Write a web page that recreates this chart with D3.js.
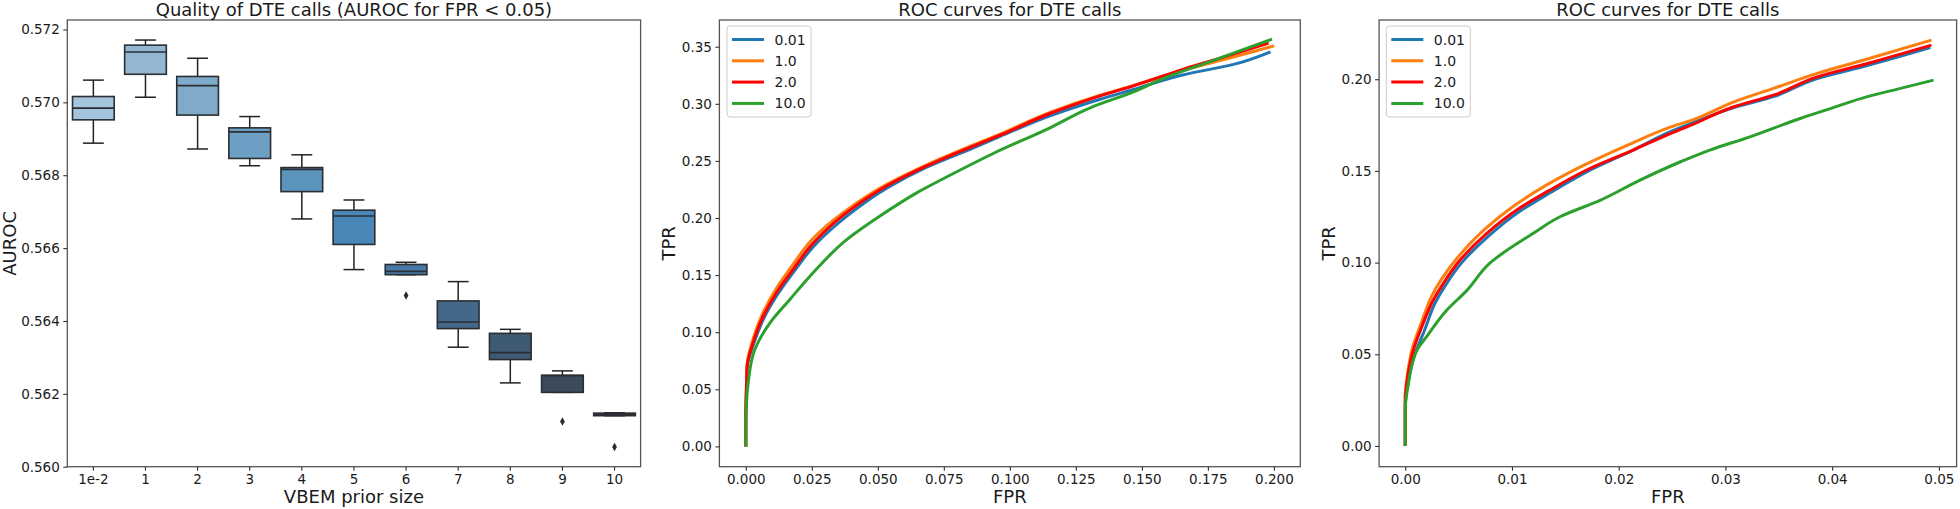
<!DOCTYPE html>
<html><head><meta charset="utf-8">
<script src="https://cdn.jsdelivr.net/npm/d3@7/dist/d3.min.js"></script>
<style>
body{margin:0;background:#fff}
text{font-family:'DejaVu Sans',sans-serif;fill:#1a1a1a}
</style></head>
<body><svg id="c" width="1960" height="509"></svg>
<script>
// ---------------- DATA ----------------
const boxCategories = ["1e-2","1","2","3","4","5","6","7","8","9","10"];
const boxWhiskerHigh = [0.57061,0.57171,0.57121,0.56961,0.56856,0.56732,0.56561,0.56508,0.56377,0.56263,0.56148];
const boxQ3          = [0.57016,0.57157,0.57071,0.56930,0.56821,0.56704,0.56555,0.56455,0.56366,0.56251,0.56147];
const boxMedian      = [0.56984,0.57138,0.57046,0.56919,0.56816,0.56688,0.56536,0.56397,0.56313,0.56250,0.56143];
const boxQ1          = [0.56952,0.57077,0.56965,0.56846,0.56755,0.56610,0.56527,0.56379,0.56294,0.56204,0.56140];
const boxWhiskerLow  = [0.56888,0.57014,0.56872,0.56826,0.56680,0.56541,0.56527,0.56328,0.56230,0.56204,0.56140];
const boxOutliers    = [[],[],[],[],[],[],[0.56470],[],[],[0.56124],[0.56054]];
const boxYTicks = [0.560,0.562,0.564,0.566,0.568,0.570,0.572];

const seriesNames = ["0.01","1.0","2.0","10.0"];

// ROC curves, FPR up to 0.2 : [FPR, TPR]
const rocFull_001 = [[0,0],[0,0.028],[0.0002,0.048],[0.0005,0.069],[0.003,0.09],[0.007,0.113],[0.012,0.133],[0.0185,0.154],[0.026,0.176],[0.039,0.203],[0.054,0.227],[0.0685,0.2445],[0.0862,0.2615],[0.0963,0.2715],[0.1152,0.2895],[0.1342,0.304],[0.1468,0.3125],[0.1658,0.3255],[0.1847,0.3345],[0.1987,0.3455]];
const rocFull_1 = [[0,0],[0,0.03],[0.0002,0.05],[0.0005,0.072],[0.0026,0.093],[0.0063,0.116],[0.0112,0.137],[0.0175,0.158],[0.025,0.181],[0.038,0.2065],[0.053,0.229],[0.0685,0.2466],[0.0862,0.264],[0.0963,0.2735],[0.1152,0.2925],[0.1342,0.3075],[0.1468,0.316],[0.1658,0.3295],[0.1847,0.341],[0.2001,0.3508]];
const rocFull_2 = [[0,0],[0,0.025],[0.0002,0.045],[0.0005,0.070],[0.0028,0.091],[0.0066,0.114],[0.0116,0.1345],[0.0179,0.155],[0.0255,0.178],[0.0382,0.2047],[0.0533,0.228],[0.0685,0.2456],[0.0773,0.2545],[0.0862,0.263],[0.0963,0.2725],[0.1152,0.2915],[0.1342,0.307],[0.1468,0.3157],[0.1658,0.3304],[0.1847,0.3435],[0.198,0.3532]];
const rocFull_10 = [[0,0],[0,0.02],[0.0003,0.04],[0.0009,0.0556],[0.0034,0.0848],[0.0091,0.108],[0.0167,0.1287],[0.0243,0.149],[0.0382,0.181],[0.0508,0.2017],[0.0647,0.222],[0.0799,0.2405],[0.0937,0.2565],[0.1152,0.279],[0.1304,0.2965],[0.1468,0.3105],[0.1595,0.3235],[0.1784,0.3391],[0.1993,0.3567]];

// ROC curves, FPR up to 0.05 : [FPR, TPR]
const rocZoom_001 = [[0,0],[0,0.022],[0.0002,0.032],[0.0009,0.05],[0.0018,0.063],[0.0028,0.078],[0.0037,0.087],[0.0053,0.1],[0.0078,0.1145],[0.0106,0.1275],[0.0137,0.1385],[0.017,0.1495],[0.0214,0.1615],[0.0249,0.1715],[0.027,0.1765],[0.0308,0.1845],[0.0345,0.1905],[0.0386,0.2004],[0.0433,0.2075],[0.0492,0.2173]];
const rocZoom_1 = [[0,0],[0,0.027],[0.00014,0.036],[0.0007,0.054],[0.0015,0.067],[0.0025,0.082],[0.0034,0.091],[0.005,0.1035],[0.0074,0.118],[0.0102,0.131],[0.0133,0.1425],[0.0167,0.153],[0.021,0.1645],[0.0249,0.174],[0.027,0.178],[0.0308,0.1877],[0.0345,0.195],[0.0386,0.2032],[0.0433,0.211],[0.0493,0.2213]];
const rocZoom_2 = [[0,0],[0,0.025],[0.00014,0.0342],[0.00076,0.0523],[0.00155,0.065],[0.00263,0.0796],[0.00357,0.0887],[0.00514,0.1014],[0.00764,0.116],[0.01045,0.1287],[0.01357,0.1396],[0.017,0.1505],[0.0214,0.1615],[0.0249,0.1705],[0.027,0.1755],[0.0308,0.185],[0.0345,0.1913],[0.0386,0.2013],[0.0433,0.2086],[0.0493,0.2186]];
const rocZoom_10 = [[0,0],[0,0.02],[0.0003,0.0342],[0.0011,0.0523],[0.002,0.0596],[0.0039,0.0741],[0.0058,0.085],[0.0079,0.0996],[0.012,0.116],[0.0145,0.125],[0.0183,0.1341],[0.022,0.145],[0.0258,0.155],[0.0286,0.1615],[0.0323,0.1686],[0.037,0.1786],[0.0401,0.1845],[0.0433,0.1905],[0.0464,0.195],[0.0495,0.1995]];

const fullXTicks = [0,0.025,0.05,0.075,0.1,0.125,0.15,0.175,0.2];
const fullYTicks = [0,0.05,0.1,0.15,0.2,0.25,0.3,0.35];
const zoomXTicks = [0,0.01,0.02,0.03,0.04,0.05];
const zoomYTicks = [0,0.05,0.1,0.15,0.2];

// ---------------- STYLE ----------------
const boxFill = ["#a4c3dc","#93b7d2","#80aac9","#6d9ec3","#5b93bd","#4a86b8","#4679a5","#43688a","#3f5a73","#3a4b5d","#2f3b47"];
const lineColors = ["#1f77b4","#ff7f0e","#ff0000","#2ca02c"];
const svg = d3.select("#c");
const TOP = 20, BOT = 466.7;

function frame(g, x0, x1){
  g.append("rect").attr("x",x0).attr("y",TOP).attr("width",x1-x0).attr("height",BOT-TOP)
   .attr("fill","none").attr("stroke","#555").attr("stroke-width",1.3);
}
function styleAxis(sel){
  sel.select(".domain").remove();
  sel.selectAll(".tick line").attr("stroke","#333").attr("stroke-width",1.1);
  sel.selectAll(".tick text").attr("font-size","13.5px").attr("fill","#1a1a1a").attr("font-family","DejaVu Sans");
}
function title(txt, cx){
  svg.append("text").attr("x",cx).attr("y",16).attr("text-anchor","middle").attr("font-size","18px").text(txt);
}
function xlabel(txt, cx){
  svg.append("text").attr("x",cx).attr("y",503).attr("text-anchor","middle").attr("font-size","18px").text(txt);
}
function ylabel(txt, cx){
  svg.append("text").attr("transform",`translate(${cx},${(TOP+BOT)/2}) rotate(-90)`)
    .attr("text-anchor","middle").attr("dy","0.36em").attr("font-size","18px").text(txt);
}

// ---------------- PANEL 1: boxplot ----------------
{
  const x0=67.3, x1=640.6;
  const x = d3.scaleBand().domain(boxCategories).range([x0,x1]).padding(0);
  const y = d3.scaleLinear().domain([0.560,0.57226]).range([BOT,TOP]);
  const g = svg.append("g");
  const bw = x.bandwidth()*0.8;
  const edge = "#2a2e33";
  boxCategories.forEach((c,i)=>{
    const cx = x(c)+x.bandwidth()/2;
    g.append("line").attr("x1",cx).attr("x2",cx).attr("y1",y(boxWhiskerHigh[i])).attr("y2",y(boxQ3[i])).attr("stroke","#222").attr("stroke-width",1.5);
    g.append("line").attr("x1",cx).attr("x2",cx).attr("y1",y(boxWhiskerLow[i])).attr("y2",y(boxQ1[i])).attr("stroke","#222").attr("stroke-width",1.5);
    g.append("line").attr("x1",cx-bw/4).attr("x2",cx+bw/4).attr("y1",y(boxWhiskerHigh[i])).attr("y2",y(boxWhiskerHigh[i])).attr("stroke","#222").attr("stroke-width",1.5);
    g.append("line").attr("x1",cx-bw/4).attr("x2",cx+bw/4).attr("y1",y(boxWhiskerLow[i])).attr("y2",y(boxWhiskerLow[i])).attr("stroke","#222").attr("stroke-width",1.5);
    g.append("rect").attr("x",cx-bw/2).attr("width",bw).attr("y",y(boxQ3[i])).attr("height",Math.max(0.5,y(boxQ1[i])-y(boxQ3[i])))
      .attr("fill",boxFill[i]).attr("stroke",edge).attr("stroke-width",1.6);
    g.append("line").attr("x1",cx-bw/2).attr("x2",cx+bw/2).attr("y1",y(boxMedian[i])).attr("y2",y(boxMedian[i])).attr("stroke",edge).attr("stroke-width",1.6);
    boxOutliers[i].forEach(v=>{
      g.append("path").attr("transform",`translate(${cx},${y(v)})`).attr("d","M0,-4.2L2.4,0L0,4.2L-2.4,0Z").attr("fill","#2a2e33");
    });
  });
  frame(svg, x0, x1);
  const ax = svg.append("g").attr("transform",`translate(0,${BOT})`).call(d3.axisBottom(x).tickSize(4).tickPadding(3.5));
  styleAxis(ax);
  const ay = svg.append("g").attr("transform",`translate(${x0},0)`).call(d3.axisLeft(y).tickValues(boxYTicks).tickFormat(d3.format(".3f")).tickSize(4).tickPadding(3.5));
  styleAxis(ay);
  title("Quality of DTE calls (AUROC for FPR < 0.05)", (x0+x1)/2);
  xlabel("VBEM prior size", (x0+x1)/2);
  ylabel("AUROC", 10);
}

// ---------------- ROC panels ----------------
function rocPanel(x0,x1,xdom,ydom,series,xt,yt,xf,yf,ylabX,legX){
  const x = d3.scaleLinear().domain(xdom).range([x0,x1]);
  const y = d3.scaleLinear().domain(ydom).range([BOT,TOP]);
  const clipId = "clip"+Math.round(x0);
  svg.append("clipPath").attr("id",clipId).append("rect").attr("x",x0).attr("y",TOP).attr("width",x1-x0).attr("height",BOT-TOP);
  const g = svg.append("g").attr("clip-path",`url(#${clipId})`);
  const line = d3.line().x(d=>x(d[0])).y(d=>y(d[1])).curve(d3.curveMonotoneY);
  series.forEach((s,i)=>{
    g.append("path").attr("d",line(s)).attr("fill","none").attr("stroke",lineColors[i]).attr("stroke-width",3).attr("stroke-linejoin","round");
  });
  frame(svg,x0,x1);
  const ax = svg.append("g").attr("transform",`translate(0,${BOT})`).call(d3.axisBottom(x).tickValues(xt).tickFormat(d3.format(xf)).tickSize(4).tickPadding(3.5));
  styleAxis(ax);
  const ay = svg.append("g").attr("transform",`translate(${x0},0)`).call(d3.axisLeft(y).tickValues(yt).tickFormat(d3.format(yf)).tickSize(4).tickPadding(3.5));
  styleAxis(ay);
  title("ROC curves for DTE calls",(x0+x1)/2);
  xlabel("FPR",(x0+x1)/2);
  ylabel("TPR",ylabX);
  const lg = svg.append("g");
  lg.append("rect").attr("x",legX).attr("y",26).attr("width",84).attr("height",91).attr("rx",3)
    .attr("fill","#fff").attr("fill-opacity",0.8).attr("stroke","#ccc").attr("stroke-width",1);
  seriesNames.forEach((n,i)=>{
    const yy = 39.5 + i*21.3;
    lg.append("line").attr("x1",legX+5).attr("x2",legX+37).attr("y1",yy).attr("y2",yy).attr("stroke",lineColors[i]).attr("stroke-width",3);
    lg.append("text").attr("x",legX+47.5).attr("y",yy).attr("dy","0.36em").attr("font-size","14px").text(n);
  });
}
rocPanel(719.4,1300.3,[-0.01,0.21],[-0.0178,0.3734],[rocFull_001,rocFull_1,rocFull_2,rocFull_10],fullXTicks,fullYTicks,".3f",".2f",669,727);
rocPanel(1379.1,1956.6,[-0.00245,0.05166],[-0.0113,0.2323],[rocZoom_001,rocZoom_1,rocZoom_2,rocZoom_10],zoomXTicks,zoomYTicks,".2f",".2f",1328.5,1386.3);
</script></body></html>
